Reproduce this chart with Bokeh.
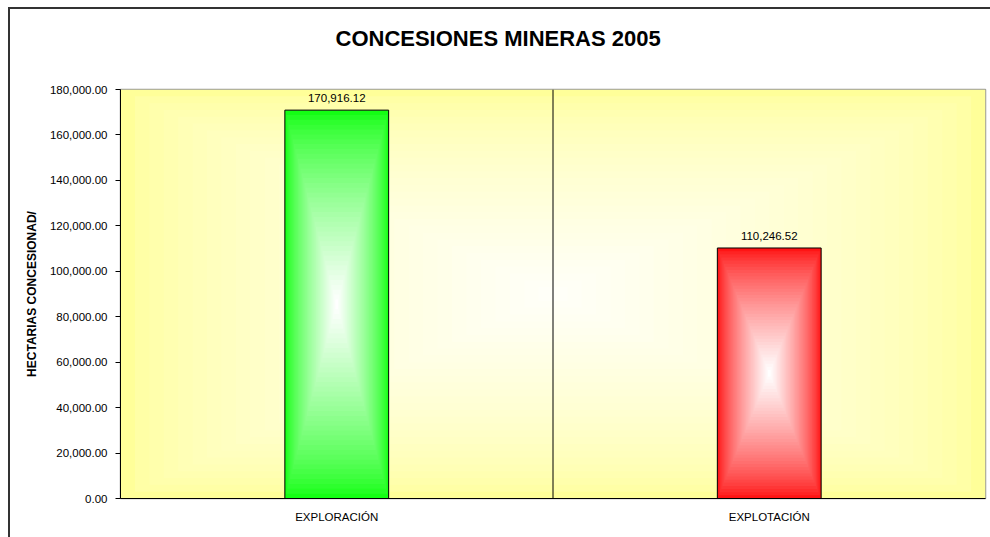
from bokeh.plotting import figure
from bokeh.models import (Range1d, NumeralTickFormatter, Span, LabelSet, Title,
                          ColumnDataSource, FixedTicker, FactorRange, CategoricalAxis)
from bokeh.core.properties import value
from bokeh.embed import file_html
from bokeh.resources import INLINE

# ---------------- data ----------------
categories = ["EXPLORACIÓN", "EXPLOTACIÓN"]
hectares = [170916.12, 110246.52]
bar_colors = ["#14FF14", "#FF1414"]
y_ticks = [0, 20000, 40000, 60000, 80000, 100000, 120000, 140000, 160000, 180000]
title_text = "CONCESIONES  MINERAS  2005"
y_label = "HECTARIAS CONCESIONAD/"

Y_MAX = y_ticks[-1]
BAR_W = 0.24
FONT = "Liberation Sans"


def mix(c, t):
    r, g, b = int(c[1:3], 16), int(c[3:5], 16), int(c[5:7], 16)
    return "#%02x%02x%02x" % (round(r + (255 - r) * t),
                              round(g + (255 - g) * t),
                              round(b + (255 - b) * t))


p = figure(width=980, height=528, x_range=FactorRange(*categories),
           y_range=Range1d(0, Y_MAX), output_backend="svg",
           toolbar_location=None, min_border_left=110, min_border_right=5,
           min_border_top=80, min_border_bottom=39,
           frame_width=865, frame_height=409)

p.styles = {"margin-left": "8px", "margin-top": "7px",
            "border-left": "2px solid #333333", "border-top": "2px solid #333333"}

p.background_fill_color = "#FFFF99"
p.border_fill_color = "white"
p.outline_line_color = "#9a9a9a"
p.outline_line_width = 1.5
p.xgrid.visible = False
p.ygrid.visible = False

# plot-area gradient (light centre, yellow edges)
NB = 30
bg = dict(x=[], y=[], w=[], h=[], c=[])
for k in range(NB):
    s = 1 - k / NB
    t = (k / (NB - 1)) ** 0.6 * 0.93
    bg["x"].append(1.0)
    bg["y"].append(Y_MAX / 2)
    bg["w"].append(2 * s)
    bg["h"].append(Y_MAX * s)
    bg["c"].append(mix("#FFFF99", t))
p.rect(x="x", y="y", width="w", height="h", fill_color="c", line_color=None,
       source=ColumnDataSource(bg))

# bars with centre-to-edge gradient
N = 40
lay = dict(x=[], y=[], w=[], h=[], c=[])
for k in range(N):
    s = 1 - k / N
    t = (k / (N - 1)) ** 0.75
    for cat, v, col in zip(categories, hectares, bar_colors):
        lay["x"].append(cat)
        lay["y"].append(v / 2)
        lay["w"].append(BAR_W * s)
        lay["h"].append(v * s)
        lay["c"].append(mix(col, t))
p.rect(x="x", y="y", width="w", height="h", fill_color="c", line_color=None,
       source=ColumnDataSource(lay))

src = ColumnDataSource(dict(x=categories, top=hectares,
                            lab=["{:,.2f}".format(v) for v in hectares]))
p.vbar(x="x", top="top", width=BAR_W, source=src, fill_color=None,
       line_color="black", line_width=1)

labels = LabelSet(x="x", y="top", text="lab", source=src, y_offset=8,
                  text_align="center", text_baseline="alphabetic",
                  text_font=value(FONT), text_font_size=value("11.5px"),
                  text_color="black")
p.add_layout(labels)

# divider between categories
p.add_layout(Span(location=1, dimension="height", line_color="black", line_width=1))

# axes
p.yaxis.ticker = FixedTicker(ticks=y_ticks)
p.yaxis.formatter = NumeralTickFormatter(format="0,0.00")
p.yaxis.axis_line_color = "black"
p.yaxis.major_tick_out = 5
p.yaxis.major_tick_in = 0
p.yaxis.minor_tick_line_color = None
p.yaxis.major_label_standoff = 8
p.yaxis.major_label_text_font = FONT
p.yaxis.major_label_text_font_size = "11.5px"
p.yaxis.major_label_text_color = "black"
p.yaxis.axis_label = y_label
p.yaxis.axis_label_text_font = FONT
p.yaxis.axis_label_text_font_size = "12px"
p.yaxis.axis_label_text_font_style = "bold"
p.yaxis.axis_label_text_color = "black"
p.yaxis.axis_label_standoff = 8

xa = p.below[0]
xa.axis_line_color = "black"
xa.major_tick_line_color = None
xa.major_tick_out = 0
xa.major_tick_in = 0
xa.major_label_standoff = 12
xa.major_label_text_font = FONT
xa.major_label_text_font_size = "11.5px"
xa.major_label_text_color = "black"

# invisible spacer between frame and title (keeps the title high)
spacer = CategoricalAxis(axis_line_color=None, major_tick_line_color=None,
                         minor_tick_line_color=None, major_tick_out=34,
                         major_tick_in=0, major_label_standoff=0,
                         major_label_text_font_size="0px",
                         major_label_text_color=None)
p.add_layout(spacer, "above")

# title
title = Title(text=title_text, align="left", offset=215, standoff=10,
              text_font=FONT, text_font_size="22px", text_font_style="bold",
              text_color="black")
p.add_layout(title, "above")

open("out.html", "w").write(file_html(p, INLINE))
